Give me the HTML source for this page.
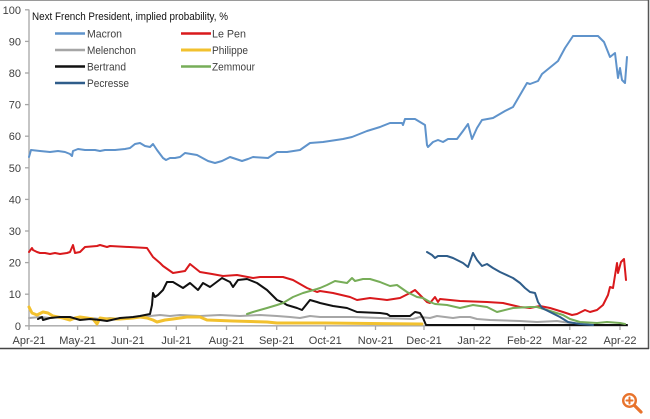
<!DOCTYPE html>
<html><head><meta charset="utf-8"><style>
html,body{margin:0;padding:0;background:#fff;}
svg{display:block;}
text{font-family:"Liberation Sans",Arial,sans-serif;}
</style></head><body>
<svg width="650" height="419" viewBox="0 0 650 419" xmlns="http://www.w3.org/2000/svg">
<rect x="0" y="0" width="650" height="419" fill="#fff"/>
<!-- frame -->
<line x1="0" y1="0.5" x2="649" y2="0.5" stroke="#9a9a9a" stroke-width="1"/>
<line x1="648.5" y1="0" x2="648.5" y2="349" stroke="#555" stroke-width="1.5"/>
<line x1="0" y1="348.5" x2="649" y2="348.5" stroke="#444" stroke-width="1.5"/>

<!-- axes -->
<g stroke="#a6a6a6" stroke-width="1.3" fill="none">
<line x1="29" y1="9.5" x2="29" y2="326"/>
<line x1="29" y1="325.8" x2="628" y2="325.8"/>
<line x1="25" y1="9.8" x2="29" y2="9.8"/>
<line x1="25" y1="41.4" x2="29" y2="41.4"/>
<line x1="25" y1="73" x2="29" y2="73"/>
<line x1="25" y1="104.6" x2="29" y2="104.6"/>
<line x1="25" y1="136.2" x2="29" y2="136.2"/>
<line x1="25" y1="167.8" x2="29" y2="167.8"/>
<line x1="25" y1="199.4" x2="29" y2="199.4"/>
<line x1="25" y1="231" x2="29" y2="231"/>
<line x1="25" y1="262.6" x2="29" y2="262.6"/>
<line x1="25" y1="294.2" x2="29" y2="294.2"/>
<line x1="25" y1="325.8" x2="29" y2="325.8"/>
<line x1="29" y1="326" x2="29" y2="330"/>
<line x1="77.6" y1="326" x2="77.6" y2="330"/>
<line x1="127.8" y1="326" x2="127.8" y2="330"/>
<line x1="176.3" y1="326" x2="176.3" y2="330"/>
<line x1="226.5" y1="326" x2="226.5" y2="330"/>
<line x1="276.7" y1="326" x2="276.7" y2="330"/>
<line x1="325.3" y1="326" x2="325.3" y2="330"/>
<line x1="375.5" y1="326" x2="375.5" y2="330"/>
<line x1="424" y1="326" x2="424" y2="330"/>
<line x1="474.2" y1="326" x2="474.2" y2="330"/>
<line x1="524.4" y1="326" x2="524.4" y2="330"/>
<line x1="569.8" y1="326" x2="569.8" y2="330"/>
<line x1="620" y1="326" x2="620" y2="330"/>
</g>

<!-- y labels -->
<g font-size="11" fill="#404040" text-anchor="end">
<text x="21" y="13.8">100</text>
<text x="21" y="45.4">90</text>
<text x="21" y="77">80</text>
<text x="21" y="108.6">70</text>
<text x="21" y="140.2">60</text>
<text x="21" y="171.8">50</text>
<text x="21" y="203.4">40</text>
<text x="21" y="235">30</text>
<text x="21" y="266.6">20</text>
<text x="21" y="298.2">10</text>
<text x="21" y="329.8">0</text>
</g>
<!-- x labels -->
<g font-size="11" fill="#404040" text-anchor="middle">
<text x="29" y="344">Apr-21</text>
<text x="77.6" y="344">May-21</text>
<text x="127.8" y="344">Jun-21</text>
<text x="176.3" y="344">Jul-21</text>
<text x="226.5" y="344">Aug-21</text>
<text x="276.7" y="344">Sep-21</text>
<text x="325.3" y="344">Oct-21</text>
<text x="375.5" y="344">Nov-21</text>
<text x="424" y="344">Dec-21</text>
<text x="474.2" y="344">Jan-22</text>
<text x="524.4" y="344">Feb-22</text>
<text x="569.8" y="344">Mar-22</text>
<text x="620" y="344">Apr-22</text>
</g>

<!-- title & legend -->
<text x="32" y="20" font-size="11" fill="#111" textLength="196" lengthAdjust="spacingAndGlyphs">Next French President, implied probability, %</text>
<g stroke-width="2.5">
<line x1="55" y1="33.5" x2="85" y2="33.5" stroke="#5f93cb"/>
<line x1="55" y1="50" x2="85" y2="50" stroke="#a6a6a6"/>
<line x1="55" y1="66.5" x2="85" y2="66.5" stroke="#111"/>
<line x1="55" y1="83" x2="85" y2="83" stroke="#2f5d8a"/>
<line x1="181" y1="33.5" x2="211" y2="33.5" stroke="#d9191c"/>
<line x1="181" y1="50" x2="211" y2="50" stroke="#f2c12e" stroke-width="3"/>
<line x1="181" y1="66.5" x2="211" y2="66.5" stroke="#77ad58"/>
</g>
<g font-size="11" fill="#404040">
<text x="87" y="37.5" textLength="35" lengthAdjust="spacingAndGlyphs">Macron</text>
<text x="87" y="54" textLength="49" lengthAdjust="spacingAndGlyphs">Melenchon</text>
<text x="87" y="70.5" textLength="39" lengthAdjust="spacingAndGlyphs">Bertrand</text>
<text x="87" y="87" textLength="42" lengthAdjust="spacingAndGlyphs">Pecresse</text>
<text x="212" y="37.5" textLength="34" lengthAdjust="spacingAndGlyphs">Le Pen</text>
<text x="212" y="54" textLength="36" lengthAdjust="spacingAndGlyphs">Philippe</text>
<text x="212" y="70.5" textLength="43" lengthAdjust="spacingAndGlyphs">Zemmour</text>
</g>

<!-- series -->
<g fill="none" stroke-linejoin="round" stroke-linecap="round" stroke-width="2">
<polyline stroke="#5f93cb" points="29,157 31,150 40,151 50,152 58,151 65,152 70,154 72,156 73,151 78,149 85,150 95,150 100,151 105,150 115,150 125,149 130,148 135,144 140,143 145,146 150,147 153,144 157,150 163,158 166,160 170,158 175,158 180,157 185,153 197,155 208,161 215,163 222,161 230,157 236,159 242,161 248,159 253,157 268,158 277,152 287,152 300,150 310,143 323,142 343,139 352,137 357,135 367,131 380,127 390,123 402,123 403,125 405,119 415,119 425,125 427,145 428,147 433,142 438,140 443,142 448,139 457,139 463,131 468,124 472,139 477,128 482,120 493,118 505,111 513,107 527,83 530,84 538,81 542,74 558,61 565,48 573,36 598,36 604,42 610,57 615,53 618,78 620,68 622,80 625,83 627,57"/>
<polyline stroke="#d9191c" points="29,252 32,248 33,250 37,252 40,253 45,253 50,254 55,253 60,254 67,253 70,252 73,245 75,253 80,252 85,247 97,246 100,245 107,247 110,246 147,248 153,257 160,263 163,266 173,273 185,271 190,264 200,272 212,274 223,276 237,275 253,278 260,277 283,277 293,280 307,288 317,292 320,291 333,293 350,297 357,300 370,298 387,300 400,298 410,293 415,290 420,295 427,302 430,303 435,297 438,302 440,299 460,301 487,302 503,303 520,307 530,308 540,306 550,308 563,312 572,315 577,314 585,310 590,312 597,310 603,305 608,295 610,287 613,288 617,263 618,273 621,262 624,259 626,280"/>
<polyline stroke="#a6a6a6" points="29,318 40,317 50,318 60,317 70,318 80,319 90,318 100,319 110,318 120,319 130,318 140,317 150,316 160,315 170,316 180,315 200,316 220,315 240,316 260,315 277,316 290,317 300,318 310,316 320,317 353,317 380,318 413,319 420,317 430,318 437,316 453,318 460,317 470,317 477,319 490,320 520,321 537,322 557,321 570,323 583,325 627,325"/>
<polyline stroke="#f2c12e" stroke-width="3" points="29,307 32,313 37,315 43,312 48,313 53,316 63,318 70,320 75,318 80,317 87,318 93,319 97,324 100,318 107,319 120,319 133,318 140,317 147,318 153,320 157,322 165,320 173,319 187,317 200,317 207,320 233,321 267,322 277,323 325,323 422,324"/>
<polyline stroke="#111" points="38,319 42,317 43,320 50,318 60,317 70,317 80,320 90,319 100,320 107,321 120,318 133,317 140,316 150,314 152,305 153,293 155,297 158,295 163,290 167,282 173,282 183,288 190,283 198,290 203,283 210,287 222,278 230,282 233,287 238,280 247,279 257,283 267,290 277,300 282,302 287,305 297,308 302,310 310,300 317,302 320,303 333,306 347,308 357,312 380,313 387,314 390,316 410,316 415,312 420,313 423,318 426,325 627,325"/>
<polyline stroke="#77ad58" points="247,314 253,312 267,308 277,305 283,303 293,297 303,293 317,289 320,288 327,285 335,281 347,283 352,278 355,281 363,279 370,279 380,282 390,286 397,285 407,292 417,297 423,298 430,302 435,304 447,305 460,308 473,305 487,307 493,310 497,312 513,308 530,307 537,307 547,310 563,315 570,319 580,322 597,323 607,322 620,323 625,324"/>
<polyline stroke="#2f5d8a" points="427,252 432,255 435,258 438,256 447,256 453,258 463,263 468,267 473,253 477,260 482,266 487,264 493,268 500,272 513,278 520,283 525,288 530,292 535,293 538,302 542,308 550,312 560,317 568,322 580,324 593,325"/>
</g>

<!-- zoom icon -->
<g stroke="#e8732c" fill="none" stroke-linecap="round">
<circle cx="629.5" cy="400.5" r="6.3" stroke-width="2.4"/>
<line x1="634.5" y1="405.5" x2="641" y2="412" stroke-width="3.2"/>
<line x1="626.5" y1="400.5" x2="632.5" y2="400.5" stroke-width="2"/>
<line x1="629.5" y1="397.5" x2="629.5" y2="403.5" stroke-width="2"/>
</g>
</svg>
</body></html>
